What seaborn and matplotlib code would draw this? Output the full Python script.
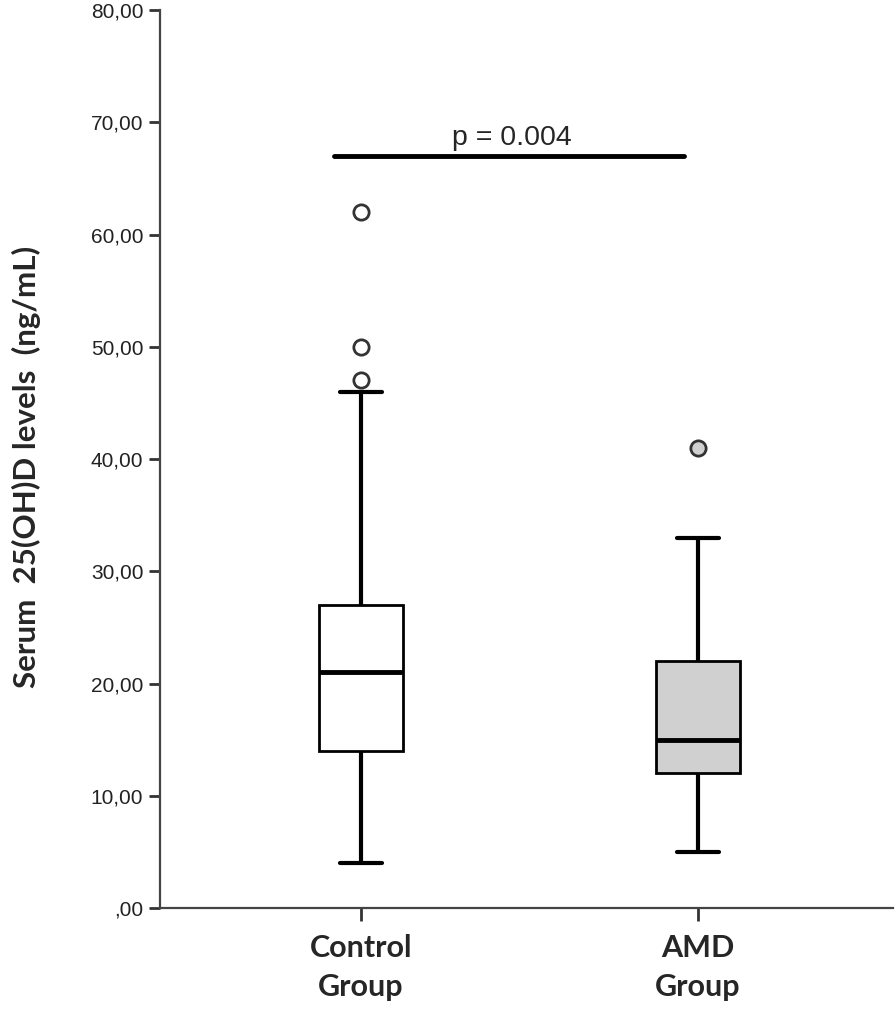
import pandas as pd
import matplotlib.pyplot as plt
import seaborn as sns

# values (five-number summaries + outliers per group)
control_values = [4, 14, 14, 14, 14, 21, 21, 21, 21, 27, 27, 27, 27, 46, 47, 50, 62]
amd_values = [5, 12, 12, 15, 15, 22, 22, 33, 41]
groups = ['Control\nGroup', 'AMD\nGroup']
box_colors = ['white', '#d0d0d0']
y_ticks = [0, 10, 20, 30, 40, 50, 60, 70, 80]
y_tick_labels = [',00', '10,00', '20,00', '30,00', '40,00', '50,00', '60,00', '70,00', '80,00']
p_text = 'p = 0.004'
p_level = 67

df = pd.DataFrame({
    'group': [groups[0]] * len(control_values) + [groups[1]] * len(amd_values),
    'value': control_values + amd_values,
})

sns.set_theme(style='white')
plt.rcParams['font.family'] = ['Liberation Sans', 'DejaVu Sans']

fig = plt.figure(figsize=(8.96, 10.25), dpi=100)
ax = fig.add_axes([0.1786, 0.1141, 0.8181, 0.8761])

sns.boxplot(data=df, x='group', y='value', hue='group', order=groups, hue_order=groups,
            palette=box_colors, width=0.25, linecolor='black', linewidth=2, legend=False,
            whiskerprops=dict(linewidth=3), capprops=dict(linewidth=3),
            medianprops=dict(linewidth=3.5),
            flierprops=dict(marker='o', markersize=11, markeredgewidth=2,
                            markeredgecolor='#333333'),
            ax=ax)

# white outliers for control, grey for AMD like the original
for line in ax.lines:
    if line.get_marker() == 'o':
        line.set_markerfacecolor('#d0d0d0' if len(line.get_ydata()) == 1 else 'white')

ax.set_xlim(-0.596, 1.579)
ax.set_ylim(0, 80)
ax.set_yticks(y_ticks)
ax.set_yticklabels(y_tick_labels, fontsize=15, color='#222222')
ax.set_xticks(range(len(groups)))
ax.set_xticklabels(groups, fontsize=22, fontweight='bold', family='Lato', linespacing=1.45)
ax.set_xlabel('')
ax.set_ylabel('Serum  25(OH)D levels  (ng/mL)', fontsize=22.5, fontweight='bold', family='Lato')
ax.yaxis.set_label_coords(-0.162, 0.491)

for side in ['top', 'right']:
    ax.spines[side].set_visible(False)
for side in ['left', 'bottom']:
    ax.spines[side].set_color('#444444')
    ax.spines[side].set_linewidth(1.6)
ax.tick_params(axis='y', direction='out', length=8, width=2, color='#333333', pad=4, left=True)
ax.tick_params(axis='x', direction='out', length=9, width=2, color='#333333', pad=10, bottom=True)

# significance bar
ax.plot([-0.08, 0.96], [p_level, p_level], color='black', linewidth=3.5, solid_capstyle='round')
ax.text(0.448, p_level + 1.0, p_text, ha='center', va='baseline', fontsize=20.5)

plt.savefig('out.png', dpi=100)
